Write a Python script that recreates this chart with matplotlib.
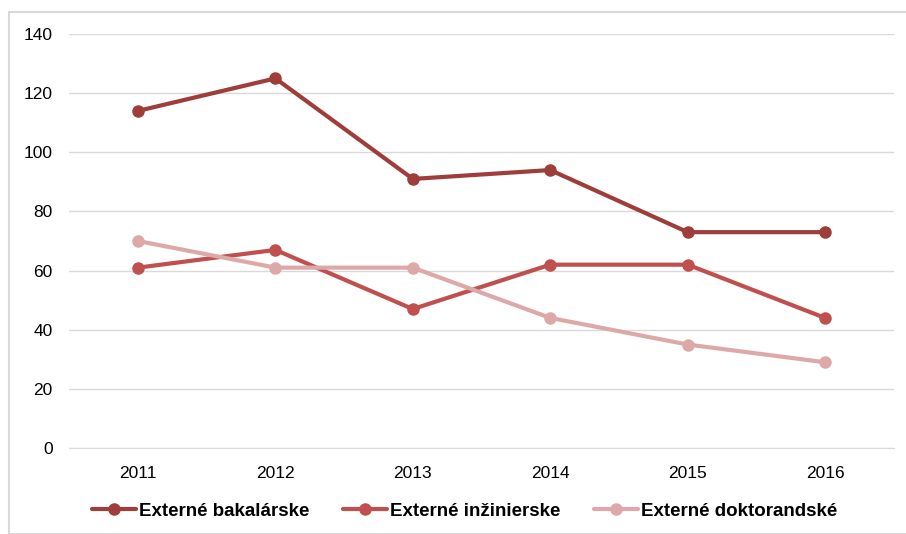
import matplotlib.pyplot as plt
from matplotlib.patches import Rectangle

plt.rcParams['font.family'] = ['Liberation Sans', 'DejaVu Sans']

# data
years = ['2011', '2012', '2013', '2014', '2015', '2016']
bakalarske = [114, 125, 91, 94, 73, 73]
inzinierske = [61, 67, 47, 62, 62, 44]
doktorandske = [70, 61, 61, 44, 35, 29]
labels = ['Externé bakalárske', 'Externé inžinierske', 'Externé doktorandské']
colors = ['#9E3D3A', '#C0504D', '#DDA9A8']

fig = plt.figure(figsize=(9.06, 5.34), dpi=100)
ax = fig.add_axes([0.0765, 0.161, 0.91, 0.7753])

x = range(len(years))
for vals, lab, col in zip([bakalarske, inzinierske, doktorandske], labels, colors):
    ax.plot(x, vals, color=col, lw=3, marker='o', ms=8, label=lab, solid_capstyle='round')

ax.set_xlim(-0.5, len(years) - 0.5)
ax.set_ylim(0, 140)
ax.set_yticks(range(0, 141, 20))
ax.set_xticks(list(x))
ax.set_xticklabels(years)
ax.grid(axis='y', color='#D9D9D9', lw=1)
ax.set_axisbelow(True)
for s in ['top', 'right', 'left']:
    ax.spines[s].set_visible(False)
ax.spines['bottom'].set_color('#D9D9D9')
ax.tick_params(axis='both', length=0, labelsize=12.5, colors='black')
ax.tick_params(axis='x', pad=13)
ax.tick_params(axis='y', pad=12)

leg = ax.legend(loc='center', bbox_to_anchor=(0.48, -0.152), ncol=3, frameon=False,
                handlelength=2.3, handletextpad=0.2, columnspacing=1.8,
                prop={'weight': 'bold', 'size': 13.5})

# border around the chart
fig.patches.append(Rectangle((9 / 906, 0.0), 1.0, 1 - 12 / 534, transform=fig.transFigure,
                             fill=False, edgecolor='#D9D9D9', lw=1.5))

fig.savefig('out.png', dpi=100)
